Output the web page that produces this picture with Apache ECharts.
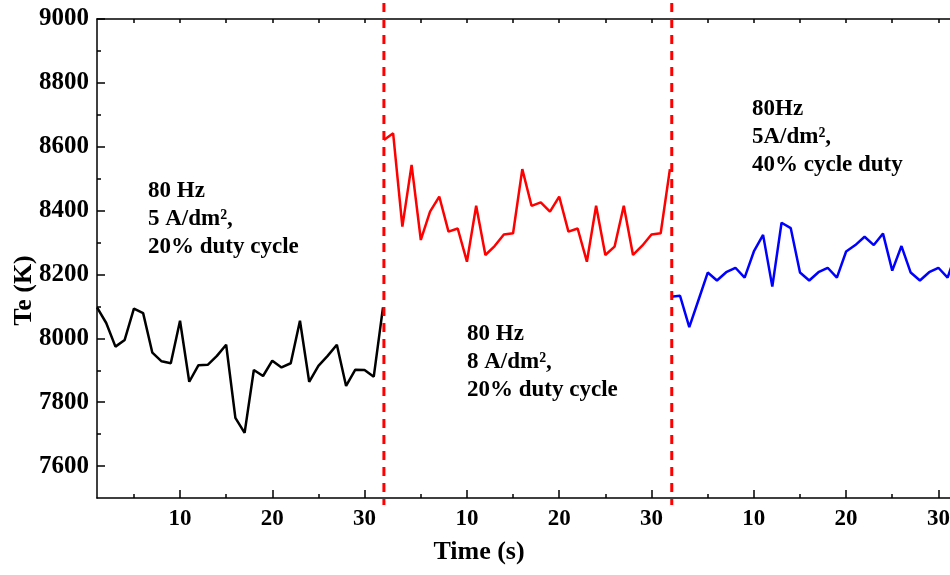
<!DOCTYPE html>
<html>
<head>
<meta charset="utf-8">
<script src="https://cdn.jsdelivr.net/npm/echarts@6/dist/echarts.min.js"></script>
<style>
  html, body { margin: 0; padding: 0; background: #fff; }
  #chart { width: 950px; height: 575px; }
</style>
</head>
<body>
<div id="chart"></div>
<script>
// 每段的时间点 1..32 s
const seg1Time = [1,2,3,4,5,6,7,8,9,10,11,12,13,14,15,16,17,18,19,20,21,22,23,24,25,26,27,28,29,30,31,32];
const seg2Time = seg1Time;
const seg3Time = seg1Time;

// 三段在总坐标轴上的起点偏移
const segOffsets = [0, 31.1, 62.2];
// 红色虚线分界位置
const boundaries = [32.1, 63.3];

// 80 Hz, 5 A/dm2, 20% duty cycle
const teBlack = [8097,8048,7974,7995,8093,8079,7955,7928,7922,8055,7864,7916,7917,7945,7980,7751,
                 7704,7901,7882,7930,7909,7922,8055,7864,7914,7945,7980,7851,7902,7901,7880,8097];
// 80 Hz, 8 A/dm2, 20% duty cycle
const teRed = [8621,8642,8350,8543,8308,8397,8444,8334,8344,8240,8415,8261,8289,8325,8329,8530,
               8415,8426,8397,8444,8334,8344,8240,8415,8261,8287,8415,8261,8290,8325,8329,8530];
// 80Hz, 5A/dm2, 40% cycle duty
const teBlue = [8130,8133,8035,8120,8206,8181,8207,8221,8190,8272,8324,8162,8362,8345,8206,8181,
                8207,8221,8190,8272,8292,8318,8292,8328,8212,8289,8206,8181,8207,8221,8190,8275];

// 刻度（每段的本地时间）
const majorTicks = [10, 20, 30];
const minorTicks = [5, 15, 25];
const yMajor = [7600, 7800, 8000, 8200, 8400, 8600, 8800, 9000];
const yMinor = [7700, 7900, 8100, 8300, 8500, 8700, 8900];

const xMin = 1, xMax = 93.46;
const yMin = 7500, yMax = 9000;

const majorPos = [], majorLabel = {}, minorPos = [];
segOffsets.forEach((off) => {
  majorTicks.forEach((t) => { const p = +(t + off).toFixed(2); majorPos.push(p); majorLabel[p] = String(t); });
  minorTicks.forEach((t) => minorPos.push(+(t + off).toFixed(2)));
});

function toPairs(times, vals, off) {
  return times.map((t, i) => [+(t + off).toFixed(2), vals[i]]);
}

const serif = '"Liberation Serif", "Times New Roman", serif';
const axisBase = {
  type: "value", min: xMin, max: xMax,
  splitLine: { show: false },
};

const myChart = echarts.init(document.getElementById("chart"));
const option = {
  animation: false,
  grid: { left: 97, right: 0, top: 19, bottom: 77, outerBoundsMode: "none", containLabel: false },
  xAxis: [
    {
      ...axisBase,
      position: "bottom",
      name: "Time (s)",
      nameLocation: "middle",
      nameGap: 41,
      nameTextStyle: { fontFamily: serif, fontWeight: "bold", fontSize: 26, color: "#000", padding: [0, 89, 0, 0] },
      axisLine: { lineStyle: { color: "#000", width: 1.5 } },
      axisTick: { inside: true, length: 8, customValues: majorPos, lineStyle: { color: "#000", width: 1.5 } },
      axisLabel: {
        customValues: majorPos, margin: 10,
        fontFamily: serif, fontWeight: "bold", fontSize: 23, color: "#000",
        formatter: (v) => majorLabel[+v.toFixed(2)] || "",
      },
    },
    {
      ...axisBase,
      position: "bottom",
      axisLine: { show: false },
      axisTick: { inside: true, length: 4, customValues: minorPos, lineStyle: { color: "#000", width: 1.5 } },
      axisLabel: { show: false },
    },
    {
      ...axisBase,
      position: "top",
      axisLine: { lineStyle: { color: "#000", width: 1.5 } },
      axisTick: { inside: true, length: 4, customValues: majorPos.concat(minorPos), lineStyle: { color: "#000", width: 1.5 } },
      axisLabel: { show: false },
    },
  ],
  yAxis: [
    {
      type: "value", min: yMin, max: yMax, position: "left",
      name: "Te (K)",
      nameLocation: "middle",
      nameGap: 60,
      nameMoveOverlap: false,
      nameTextStyle: { fontFamily: serif, fontWeight: "bold", fontSize: 26, color: "#000", padding: [0, 64, 0, 0] },
      splitLine: { show: false },
      axisLine: { show: true, lineStyle: { color: "#000", width: 1.5 } },
      axisTick: { show: true, inside: true, length: 8, customValues: yMajor, lineStyle: { color: "#000", width: 1.5 } },
      axisLabel: {
        customValues: yMajor, margin: 8,
        fontFamily: serif, fontWeight: "bold", fontSize: 25, color: "#000",
        formatter: (v) => String(v),
      },
    },
    {
      type: "value", min: yMin, max: yMax, position: "left",
      splitLine: { show: false },
      axisLine: { show: false },
      axisTick: { show: true, inside: true, length: 4, customValues: yMinor, lineStyle: { color: "#000", width: 1.5 } },
      axisLabel: { show: false },
    },
  ],
  series: [
    { type: "line", data: toPairs(seg1Time, teBlack, segOffsets[0]), symbol: "none", lineStyle: { color: "#000", width: 2.5 } },
    { type: "line", data: toPairs(seg2Time, teRed, segOffsets[1]), symbol: "none", lineStyle: { color: "#ff0000", width: 2.5 } },
    { type: "line", data: toPairs(seg3Time, teBlue, segOffsets[2]), symbol: "none", lineStyle: { color: "#0000ff", width: 2.5 } },
  ],
};
myChart.setOption(option);

// 注释文字和红色虚线
const noteFont = { fontFamily: serif, fontWeight: "bold", fontSize: 23, fill: "#000", lineHeight: 28 };
const notes = [
  { x: 148, y: 177, text: "80 Hz\n5 A/dm²,\n20% duty cycle" },
  { x: 467, y: 320, text: "80 Hz\n8 A/dm²,\n20% duty cycle" },
  { x: 752, y: 95, text: "80Hz\n5A/dm²,\n40% cycle duty" },
];
const graphics = notes.map((n) => ({
  type: "text", x: n.x, y: n.y, z: 10,
  style: { ...noteFont, text: n.text, verticalAlign: "top" },
}));
boundaries.forEach((b) => {
  const px = myChart.convertToPixel({ xAxisIndex: 0 }, b);
  graphics.push({
    type: "line", z: 20,
    shape: { x1: px, y1: 3, x2: px, y2: 505 },
    style: { stroke: "#ff0000", lineWidth: 3, lineDash: [9, 7] },
  });
});
myChart.setOption({ graphic: graphics });
</script>
</body>
</html>
